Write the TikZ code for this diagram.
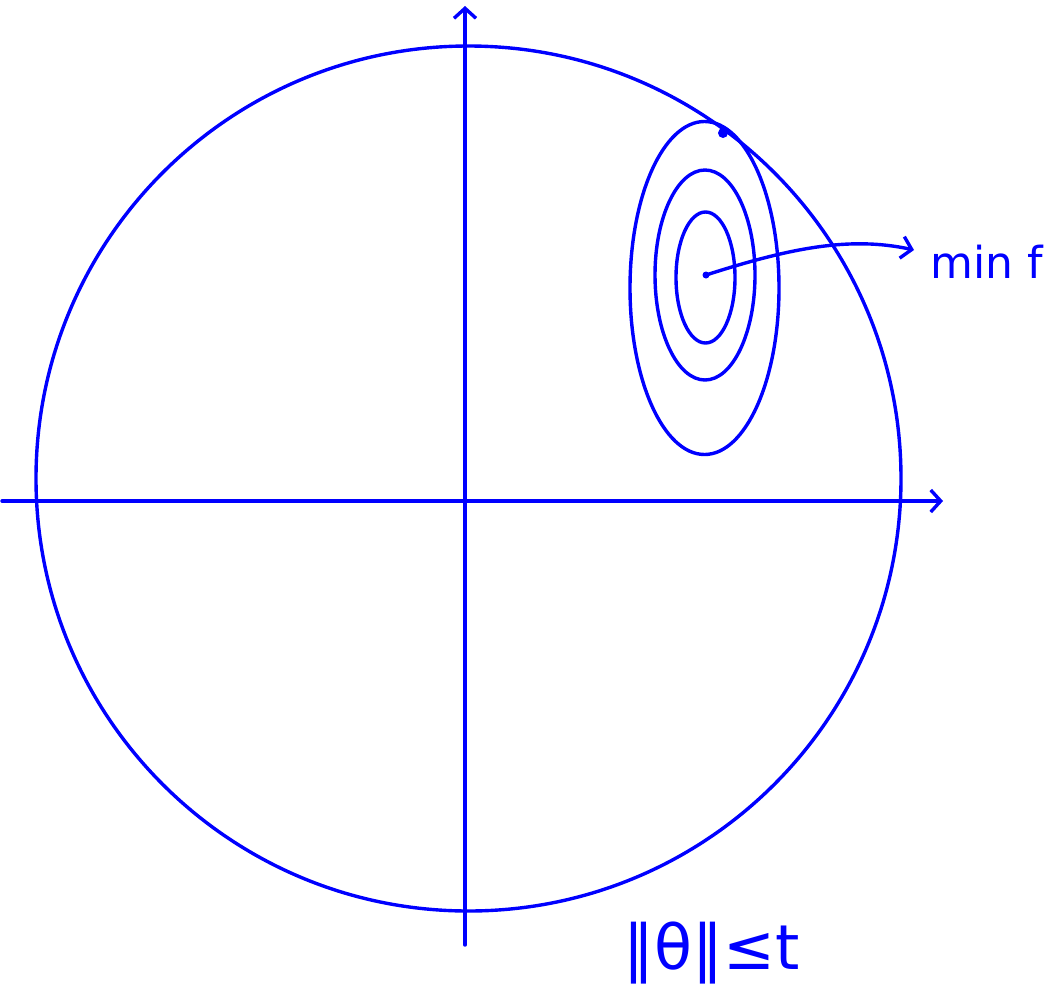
\documentclass[tikz,border=0pt]{standalone}
\usepackage{fontspec}
\setmainfont{DejaVu Sans}
\usetikzlibrary{arrows.meta}
\begin{document}
\begin{tikzpicture}[x=1pt,y=-1pt,
  pen/.style={draw=blue, line width=3.4pt, line cap=round},
  barb/.style={-{Straight Barb[length=10pt,width=22pt,line width=3.4pt]}},
  lbl/.style={text=blue, inner sep=0pt}]
\useasboundingbox (0,0) rectangle (1046,999);
% axes
\coordinate (xl) at (2,501);
\coordinate (xr) at (943,501);
\coordinate (yb) at (465,945);
\coordinate (yt) at (465,6);
\draw[pen,barb] (xl) -- (xr);
\draw[pen,barb] (yb) -- (yt);
% constraint ball
\draw[pen] (468.5,478.5) circle (432.5);
% level sets
\draw[pen] (704.5,288) ellipse (74.5 and 166.5);
\draw[pen] (705,275) ellipse (50 and 105);
\draw[pen] (705.5,277.5) ellipse (29.5 and 65.5);
% points
\fill[blue] (723,133) circle (5);
\coordinate (c) at (706,275);
\fill[blue] (c) circle (3.5);
% labels
\node[lbl, anchor=west, font=\fontsize{44}{50}\selectfont] (minf) at (930,262) {min f};
\coordinate (tip) at (914,250);
\draw[pen,barb] (c) .. controls (790,248) and (850,236) .. (tip);
\node[lbl, font=\fontsize{62}{68}\selectfont] (ball) at (712,953) {‖θ‖≤t};
\end{tikzpicture}
\end{document}
